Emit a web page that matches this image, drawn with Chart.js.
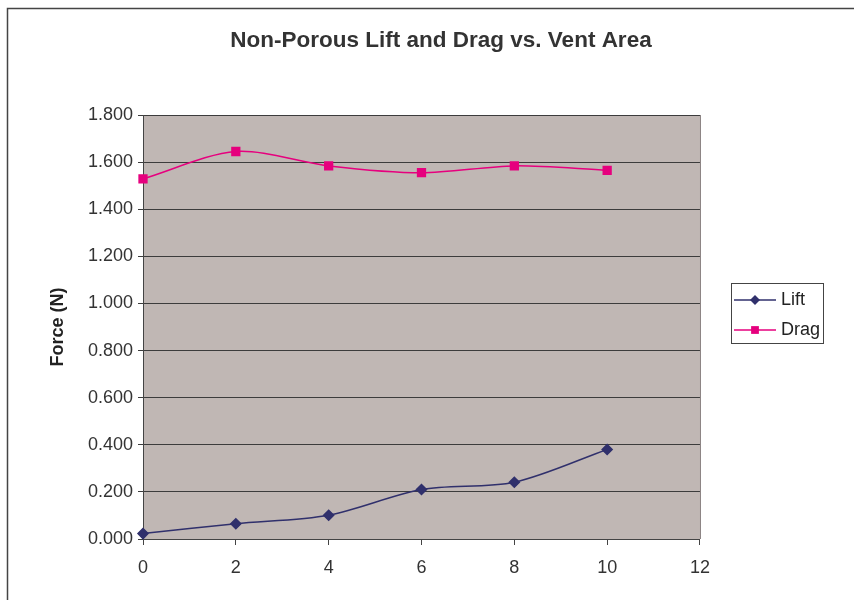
<!DOCTYPE html>
<html>
<head>
<meta charset="utf-8">
<title>Non-Porous Lift and Drag vs. Vent Area</title>
<script src="https://cdn.jsdelivr.net/npm/chart.js@4.4.1/dist/chart.umd.min.js"></script>
<style>
  html, body { margin: 0; padding: 0; background: #fff; }
  #wrap { width: 854px; height: 600px; }
</style>
</head>
<body>
<div id="wrap"><canvas id="chart" width="854" height="600"></canvas></div>
<script>
// Data
const ventArea = [0, 2, 4, 6, 8, 10];
const liftForce = [0.023, 0.065, 0.101, 0.210, 0.241, 0.380];
const dragForce = [1.529, 1.645, 1.584, 1.555, 1.584, 1.565];
const seriesNames = ["Lift", "Drag"];
const xMax = 12, xStep = 2;
const yMax = 1.8, yStep = 0.2;

const liftColor = "#30306c";
const dragColor = "#e6007e";
const textColor = "#333333";

Chart.defaults.font.family = "'Liberation Sans', Arial, sans-serif";
Chart.defaults.color = textColor;

// Small line + marker image used as the legend symbol
function legendSwatch(color, style, r) {
    const c = document.createElement("canvas");
    c.width = 68;
    c.height = 14;
    const g = c.getContext("2d");
    g.strokeStyle = color;
    g.lineWidth = 1.5;
    g.beginPath();
    g.moveTo(26, 7);
    g.lineTo(68, 7);
    g.stroke();
    g.fillStyle = color;
    g.beginPath();
    if (style === "rectRot") {
        g.moveTo(47, 7 - r);
        g.lineTo(47 + r, 7);
        g.lineTo(47, 7 + r);
        g.lineTo(47 - r, 7);
        g.closePath();
    } else {
        const s = r * Math.SQRT2;
        g.rect(47 - s / 2, 7 - s / 2, s, s);
    }
    g.fill();
    return c;
}
const swatches = [legendSwatch(liftColor, "rectRot", 5), legendSwatch(dragColor, "rect", 5.5)];

// Plot background, outer frame and legend frame
const decorations = {
    id: "decorations",
    beforeDraw(chart) {
        const { ctx, chartArea: a } = chart;
        ctx.save();
        ctx.fillStyle = "#c0b7b4";
        ctx.fillRect(a.left, a.top, a.right - a.left, a.bottom - a.top);
        ctx.restore();
    },
    afterDraw(chart) {
        const { ctx, chartArea: a } = chart;
        ctx.save();
        // right edge of plot area
        ctx.strokeStyle = "#8c8484";
        ctx.lineWidth = 1;
        ctx.beginPath();
        ctx.moveTo(a.right + 0.5, a.top);
        ctx.lineTo(a.right + 0.5, a.bottom);
        ctx.stroke();
        // outer chart border
        ctx.strokeStyle = "#444";
        ctx.lineWidth = 1.5;
        ctx.strokeRect(7.5, 8.5, 900, 700);
        // legend frame
        const boxes = chart.legend.legendHitBoxes;
        if (boxes && boxes.length) {
            const first = boxes[0], last = boxes[boxes.length - 1];
            const left = first.left + 19;
            const right = Math.max(...boxes.map(b => b.left + b.width)) + 3;
            const top = first.top - 8;
            const bottom = last.top + last.height + 4;
            ctx.strokeStyle = "#444";
            ctx.lineWidth = 1;
            ctx.strokeRect(Math.round(left) + 0.5, Math.round(top) + 0.5, Math.round(right - left), Math.round(bottom - top));
        }
        ctx.restore();
    }
};

new Chart(document.getElementById("chart"), {
    type: "line",
    data: {
        datasets: [{
            label: seriesNames[0],
            data: ventArea.map((x, i) => ({ x: x, y: liftForce[i] })),
            borderColor: liftColor,
            backgroundColor: liftColor,
            borderWidth: 1.5,
            pointStyle: "rectRot",
            pointRadius: 5,
            tension: 0.3,
            clip: false
        }, {
            label: seriesNames[1],
            data: ventArea.map((x, i) => ({ x: x, y: dragForce[i] })),
            borderColor: dragColor,
            backgroundColor: dragColor,
            borderWidth: 1.5,
            pointStyle: "rect",
            pointRadius: 5.5,
            tension: 0.3,
            clip: false
        }]
    },
    options: {
        responsive: false,
        animation: false,
        devicePixelRatio: 1,
        layout: { padding: { left: 52, right: 24, top: 30, bottom: 0 } },
        plugins: {
            title: {
                display: true,
                text: "Non-Porous Lift and Drag vs. Vent Area",
                color: textColor,
                font: { size: 22.5, weight: "bold" },
                padding: { top: -3, bottom: 61 }
            },
            legend: {
                position: "right",
                labels: {
                    usePointStyle: true,
                    pointStyleWidth: 60,
                    padding: 12,
                    color: "#222",
                    font: { size: 18 },
                    generateLabels(chart) {
                        const items = Chart.defaults.plugins.legend.labels.generateLabels(chart);
                        items.forEach((it, i) => { it.pointStyle = swatches[i]; });
                        return items;
                    }
                }
            },
            tooltip: { enabled: false }
        },
        scales: {
            x: {
                type: "linear",
                min: 0,
                max: xMax,
                ticks: { stepSize: xStep, padding: 12, color: textColor, font: { size: 18 } },
                grid: { drawOnChartArea: false, drawTicks: true, tickLength: 6, color: "#444" },
                border: { color: "#444", width: 1 },
                afterFit: s => { s.height = 61; }
            },
            y: {
                min: 0,
                max: yMax,
                ticks: {
                    stepSize: yStep,
                    padding: 5,
                    color: textColor,
                    font: { size: 18 },
                    callback: v => v.toFixed(3)
                },
                grid: { color: "#3c3c3c", tickLength: 5, lineWidth: 1 },
                border: { color: "#444", width: 1 },
                title: {
                    display: true,
                    text: "Force (N)",
                    color: "#222",
                    font: { size: 18, weight: "bold" },
                    padding: { top: -5, bottom: 0 }
                },
                afterFit: s => { s.width = 91; }
            }
        }
    },
    plugins: [decorations]
});
</script>
</body>
</html>
